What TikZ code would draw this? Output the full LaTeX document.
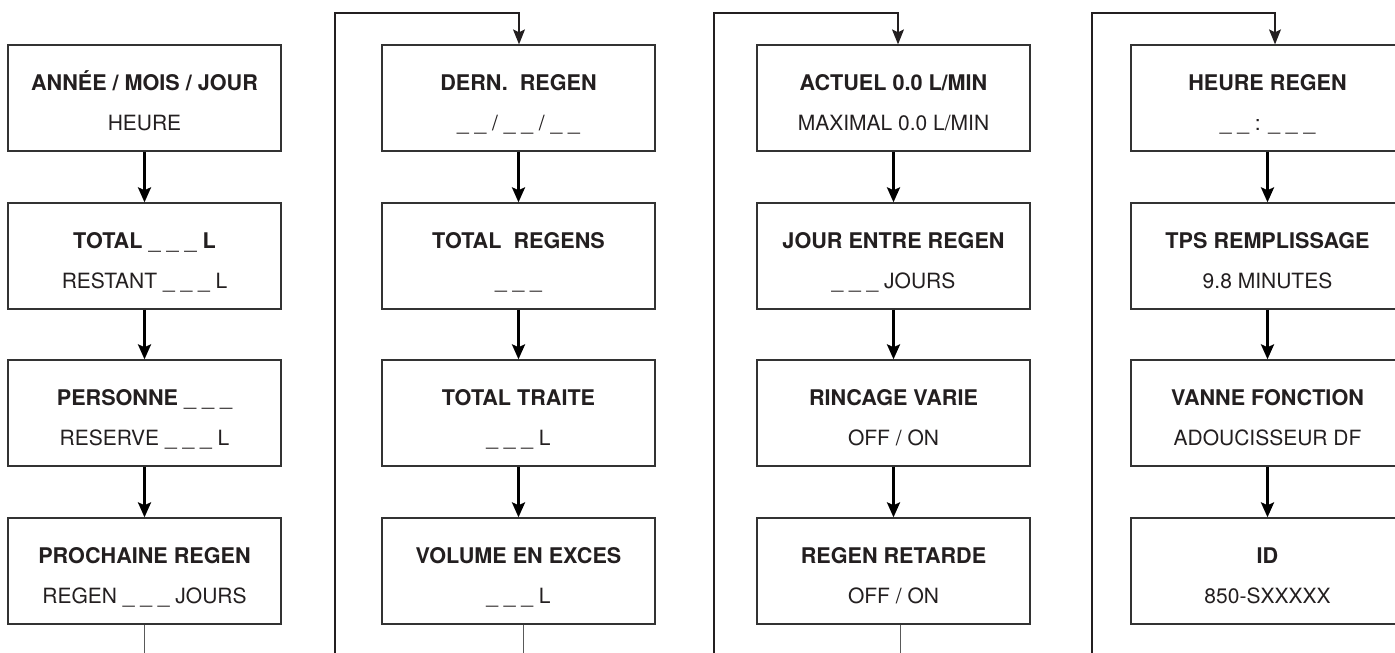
\documentclass[tikz,border=0pt]{standalone}
\usepackage{fontspec}
\setmainfont{TeX Gyre Heros}
\usetikzlibrary{arrows.meta,calc}
\definecolor{ink}{HTML}{231F20}
\definecolor{frame}{HTML}{333333}
\tikzset{
  boxst/.style={draw=frame, line width=1.3pt, minimum width=273pt, minimum height=106pt, inner sep=0pt, fill=white},
  titlest/.style={anchor=base, inner sep=0pt, text=ink, font=\fontsize{21.6}{24}\selectfont\bfseries},
  subst/.style={anchor=base, inner sep=0pt, text=ink, font=\fontsize{21}{24}\selectfont},
  arr/.style={line width=3pt, black, -{Stealth[length=15pt,width=13pt,inset=3pt]}},
  loopst/.style={line width=1.2pt, ink, -{Stealth[length=15pt,width=12pt,inset=3pt]}},
  stubst/.style={line width=1pt, black!65}
}
\newcommand\mybox[5]{%
  \node[boxst] (#1) at (#2,#3+53) {};
  \node[titlest] (#1t) at (#2,#3+45.5) {#4};
  \node[subst] (#1s) at (#2,#3+85.5) {#5};
}
\begin{document}
\begin{tikzpicture}[x=1pt,y=-1pt]
\clip (0,0) rectangle (1395,653);
\fill[white] (0,0) rectangle (1395,653);
% column 1
\mybox{a1}{144.5}{45}{ANNÉE / MOIS / JOUR}{HEURE}
\mybox{a2}{144.5}{203}{TOTAL \mdseries\_ \_ \_ \bfseries L}{RESTANT \_ \_ \_ L}
\mybox{a3}{144.5}{360}{PERSONNE \mdseries\_ \_ \_}{RESERVE \_ \_ \_ L}
\mybox{a4}{144.5}{518}{PROCHAINE REGEN}{REGEN \_ \_ \_ JOURS}
% column 2
\mybox{b1}{518.5}{45}{DERN.\ \ REGEN}{\_ \_ / \_ \_ / \_ \_}
\mybox{b2}{518.5}{203}{TOTAL\ \ REGENS}{\_ \_ \_}
\mybox{b3}{518.5}{360}{TOTAL TRAITE}{\_ \_ \_ L}
\mybox{b4}{518.5}{518}{VOLUME EN EXCES}{\_ \_ \_ L}
% column 3
\mybox{c1}{893.5}{45}{ACTUEL 0.0 L/MIN}{MAXIMAL 0.0 L/MIN}
\mybox{c2}{893.5}{203}{JOUR ENTRE REGEN}{\_ \_ \_ JOURS}
\mybox{c3}{893.5}{360}{RINCAGE VARIE}{OFF / ON}
\mybox{c4}{893.5}{518}{REGEN RETARDE}{OFF / ON}
% column 4
\mybox{d1}{1267.5}{45}{HEURE REGEN}{\_ \_ : \_ \_ \_}
\mybox{d2}{1267.5}{203}{TPS REMPLISSAGE}{9.8 MINUTES}
\mybox{d3}{1267.5}{360}{VANNE FONCTION}{ADOUCISSEUR DF}
\mybox{d4}{1267.5}{518}{ID}{850-SXXXXX}
% arrows
\foreach \c in {a,b,c,d}{
  \draw[arr] (\c1.south) -- (\c2.north);
  \draw[arr] (\c2.south) -- (\c3.north);
  \draw[arr] (\c3.south) -- (\c4.north);
}
% bottom stubs
\coordinate (e1) at (144,653);
\coordinate (e2) at (523,653);
\coordinate (e3) at (900,653);
\draw[stubst] (e1 |- a4.south) -- (e1);
\draw[stubst] (e2 |- b4.south) -- (e2);
\draw[stubst] (e3 |- c4.south) -- (e3);
% loops into top boxes
\coordinate (l2) at (335,653);
\coordinate (l3) at (714,653);
\coordinate (l4) at (1092,653);
\coordinate (t2) at (519,13);
\coordinate (t3) at (898,13);
\coordinate (t4) at (1275,13);
\draw[loopst] (l2) |- (t2) -- (t2 |- b1.north);
\draw[loopst] (l3) |- (t3) -- (t3 |- c1.north);
\draw[loopst] (l4) |- (t4) -- (t4 |- d1.north);
\end{tikzpicture}
\end{document}
